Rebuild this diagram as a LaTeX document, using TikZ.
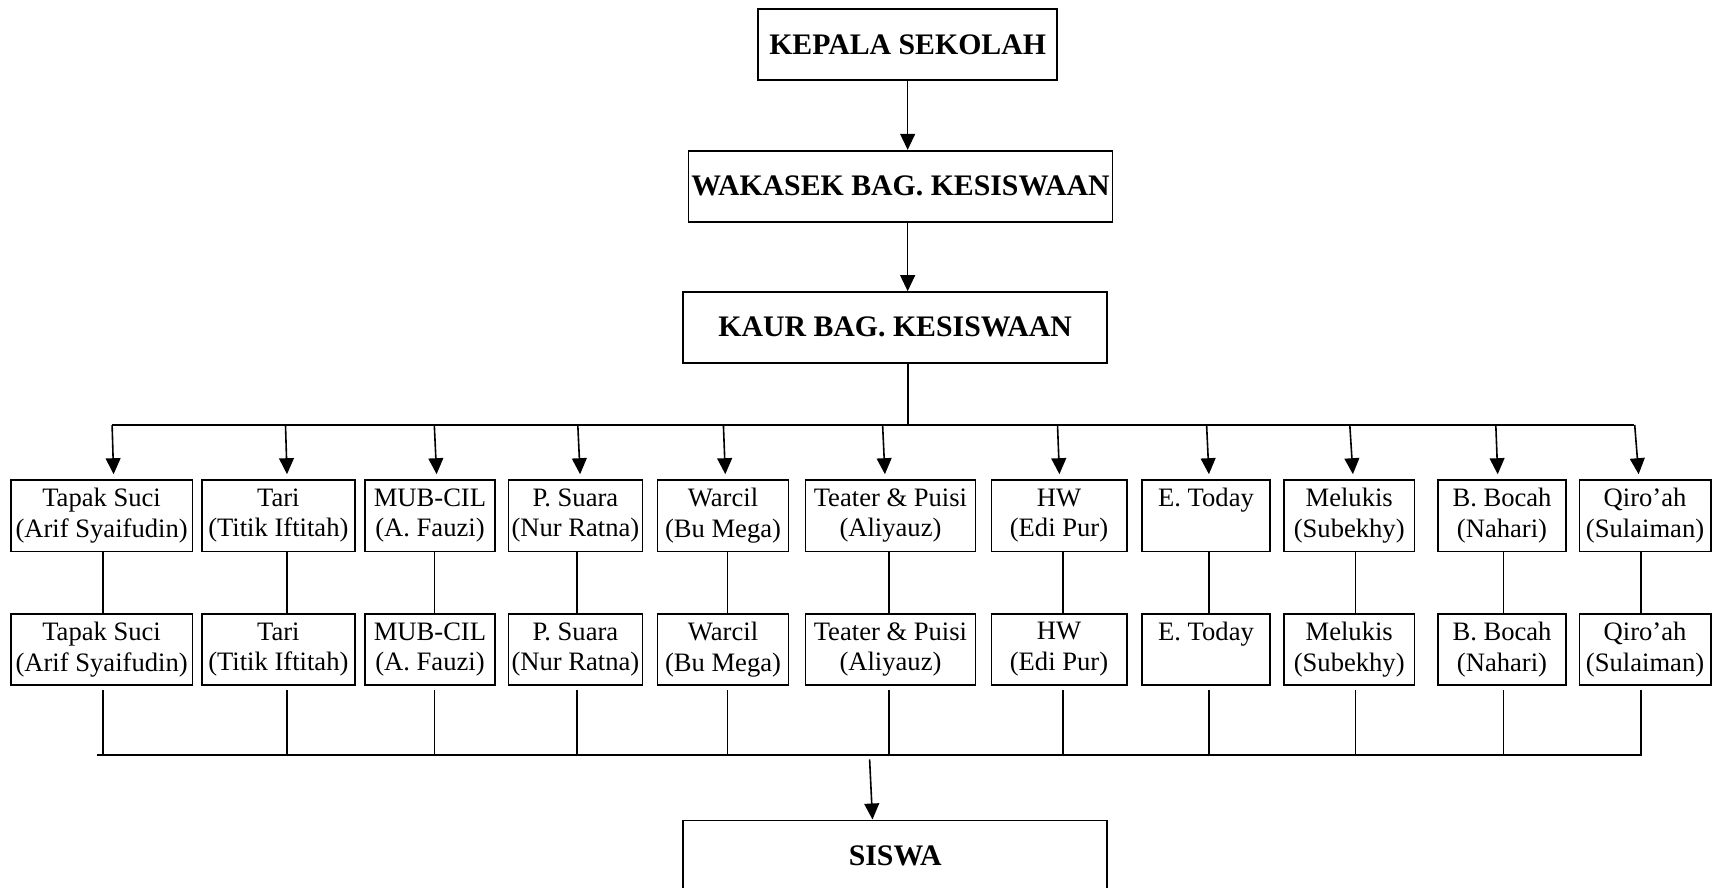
\documentclass[tikz,border=0pt]{standalone}
\usepackage{fontspec}
\setmainfont{Liberation Serif}
\usetikzlibrary{arrows.meta,calc}
\begin{document}
\begin{tikzpicture}[x=0.5pt,y=-0.5pt,line width=0.8pt,
  box/.style={draw,inner sep=0pt,align=center,font=\fontsize{13.3}{15.3}\selectfont,minimum height=35.65pt},
  head/.style={draw,inner sep=0pt,align=center,font=\fontsize{14.9}{17}\selectfont\bfseries,minimum height=35.5pt},
  arr/.style={-{Triangle[length=8pt,width=7.4pt]}}]
\useasboundingbox (0,0) rectangle (1712,888);
\clip (0,0) rectangle (1712,888);
% top chain
\node[head,minimum width=149.45pt] (kepala) at (907.65,44.8) {KEPALA SEKOLAH};
\node[head,minimum width=211.95pt] (wakasek) at (900.55,186.2) {WAKASEK BAG. KESISWAAN};
\node[head,minimum width=211.95pt,minimum height=35.35pt] (kaur) at (895.15,327.35) {KAUR BAG. KESISWAAN};
\node[head,minimum width=211.95pt,minimum height=35.35pt] (siswa) at (895.15,855.65) {SISWA};
\draw[arr] (kepala.south) -- (wakasek.north -| kepala.south);
\draw[arr] (wakasek.south -| kepala.south) -- (kaur.north -| kepala.south);
\coordinate (busT) at (907.8,425);
\coordinate (busL) at (112.1,425);
\coordinate (busR) at (1634,425);
\draw (kaur.south -| busT) -- (busT);
\draw (busL) -- (busR);
\coordinate (botL) at (96.8,755);
\coordinate (botR) at (1641.8,755);
\draw (botL) -- (botR);
\coordinate (sw) at (869.6,759.3);
\coordinate (swt) at (872.5,0);
\draw[arr] (sw) -- (siswa.north -| swt);
% columns
\foreach \i/\cx/\w/\ta/\tb/\lx/\sx/\tx in {
1/101.6/181.8/{Tapak Suci}/{(Arif Syaifudin)}/102.9/112.1/113.6,
2/278.35/152.7/{Tari}/{(Titik Iftitah)}/287/285.5/287,
3/429.95/130.5/{MUB-CIL}/{(A. Fauzi)}/434.3/434.3/436.6,
4/575.4/133.8/{P. Suara}/{(Nur Ratna)}/577/577.8/580.1,
5/723/130.8/{Warcil}/{(Bu Mega)}/727.6/723.4/725.3,
6/890.45/170.3/{Teater \& Puisi}/{(Aliyauz)}/888.7/882.6/884.9,
7/1059/135.4/{HW}/{(Edi Pur)}/1062.8/1057.5/1059.4,
8/1206/128.4/{E. Today}/{\vphantom{()}}/1208.9/1206.6/1208.9,
9/1349.2/130.8/{Melukis}/{(Subekhy)}/1355.3/1349.8/1352.9,
10/1502/128/{B. Bocah}/{(Nahari)}/1503.6/1495.8/1497.7,
11/1645.05/131.5/{Qiro’ah}/{(Sulaiman)}/1641/1634.7/1638.6}
{
  \node[box,minimum width=\w*0.5pt] (t\i) at (\cx,515.65) {\ta\\\tb};
  \node[box,minimum width=\w*0.5pt] (b\i) at (\cx,649.35) {\ta\\\tb};
  \coordinate (l\i) at (\lx,0);
  \coordinate (s\i) at (\sx,425);
  \coordinate (a\i) at (\tx,0);
  \coordinate (e\i) at ([yshift=2.5pt]t\i.north);
  \coordinate (f\i) at ([yshift=-2.15pt]b\i.south);
  \coordinate (m\i) at (\lx,755);
  \draw[arr] (s\i) -- (e\i -| a\i);
  \draw (t\i.south -| l\i) -- (b\i.north -| l\i);
  \draw (f\i -| l\i) -- (m\i);
}
\end{tikzpicture}
\end{document}
